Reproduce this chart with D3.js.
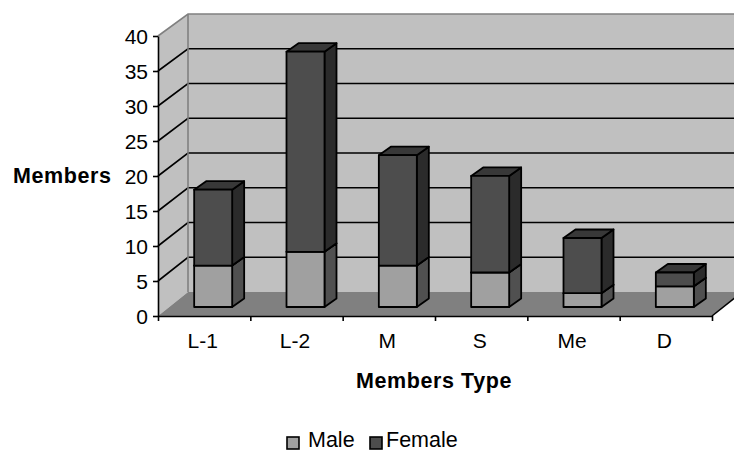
<!DOCTYPE html>
<html>
<head>
<meta charset="utf-8">
<script src="https://d3js.org/d3.v7.min.js"></script>
<style>
html,body{margin:0;padding:0;background:#fff;overflow:hidden}
svg{display:block}
text{font-family:"Liberation Sans",Arial,sans-serif;fill:#000}
</style>
</head>
<body>
<svg width="734" height="452"></svg>
<script>
const categories = ["L-1","L-2","M","S","Me","D"]
const male = [6,8,6,5,2,3]
const female = [11,29,16,14,8,2]
const yTicks = [0,5,10,15,20,25,30,35,40]

const svg = d3.select("svg")
const plotL = 158, plotR = 712, plotB = 316, plotT = 36
const depthX = 30   // offset of the back wall
const barShift = 9, barDepth = {x:12, y:-8.5}, barW = 38

const x = d3.scaleBand().domain(categories).range([plotL,plotR])
const xTick = d3.scaleLinear().domain([0,categories.length]).range([plotL,plotR])
// front plane, back wall and bars sit at slightly different scales (perspective)
const y = d3.scaleLinear().domain([0,40]).range([plotB,plotT])
const yBack = d3.scaleLinear().domain([0,40]).range([292,14])
const yBar = d3.scaleLinear().domain([0,40]).range([307,31])
const line = d3.line()

const backL = plotL+depthX, backR = plotR+depthX

// walls
const wallGrey = "#c0c0c0", edge = "#808080"
svg.append("path")
	.attr("d", line([[plotL,y(0)],[plotL,y(40)],[backL,yBack(40)],[backR,yBack(40)],[backR,yBack(0)],[backL,yBack(0)]])+"Z")
	.attr("fill",wallGrey)

// gridlines on the side and back wall
yTicks.filter(d => d > 0 && d < 40).forEach(d => {
	svg.append("path")
		.attr("d", line([[plotL,y(d)],[backL,yBack(d)],[backR,yBack(d)]]))
		.attr("fill","none").attr("stroke","#000").attr("stroke-width",1.6)
})
svg.append("path")
	.attr("d", line([[plotL,y(40)],[backL,yBack(40)],[backR,yBack(40)]]))
	.attr("fill","none").attr("stroke",edge).attr("stroke-width",1.6)
svg.append("line")
	.attr("x1",backL).attr("x2",backL)
	.attr("y1",yBack(40)).attr("y2",yBack(0))
	.attr("stroke",edge).attr("stroke-width",1.6)

// floor
svg.append("path")
	.attr("d", line([[plotL,y(0)],[backL,yBack(0)],[backR,yBack(0)],[plotR,y(0)]])+"Z")
	.attr("fill",edge)

// one stacked 3d segment
function box(g, cat, from, to, front, side, topFill){
	const x0 = x(cat)+x.bandwidth()/2-barW/2+barShift
	const x1 = x0+barW
	const y0 = yBar(from)
	const y1 = yBar(to)
	const dx = barDepth.x, dy = barDepth.y
	const add = (pts,fill) => {
		g.append("path").attr("d",line(pts)+"Z").attr("fill",fill)
			.attr("stroke","#000").attr("stroke-width",1.8).attr("stroke-linejoin","round")
	}
	add([[x1,y0],[x1+dx,y0+dy],[x1+dx,y1+dy],[x1,y1]],side)
	add([[x0,y1],[x0+dx,y1+dy],[x1+dx,y1+dy],[x1,y1]],topFill)
	add([[x0,y0],[x1,y0],[x1,y1],[x0,y1]],front)
}

const bars = svg.append("g")
categories.forEach((c,i) => {
	box(bars,c,0,male[i],"#a0a0a0","#505050","#a0a0a0")
	box(bars,c,male[i],male[i]+female[i],"#4d4d4d","#2b2b2b","#383838")
})

// axes
const yAxis = svg.append("g")
	.attr("transform","translate("+plotL+",0)")
	.call(d3.axisLeft(y).tickValues(yTicks).tickSize(5).tickPadding(5).tickSizeOuter(0))
yAxis.selectAll("text").style("font-size","21px").attr("dy","0.36em")
yAxis.selectAll("line,path").attr("stroke","#000").attr("stroke-width",1.6)

const xAxis = svg.append("g")
	.attr("transform","translate(0,"+plotB+")")
	.call(d3.axisBottom(xTick).ticks(categories.length).tickFormat("").tickSize(5).tickSizeOuter(0))
xAxis.selectAll("line,path").attr("stroke","#000").attr("stroke-width",1.6)

svg.append("path")
	.attr("d", line([[plotR,y(0)],[backR,yBack(0)]]))
	.attr("fill","none").attr("stroke","#000").attr("stroke-width",1.6)

svg.append("g").selectAll("text")
	.data(categories).enter()
	.append("text")
	.attr("x", d => x(d)+x.bandwidth()/2-1.5)
	.attr("y", 348)
	.attr("text-anchor","middle")
	.style("font-size","21px")
	.text(d => d)

// titles
svg.append("text").attr("x",13).attr("y",183)
	.style("font-size","21.5px").style("font-weight","bold").style("letter-spacing","0.6px").text("Members")
svg.append("text").attr("x",434).attr("y",388).attr("text-anchor","middle")
	.style("font-size","21.5px").style("font-weight","bold").style("letter-spacing","0.6px").text("Members Type")

// legend
const legend = svg.append("g")
;[["Male","#a0a0a0",287,308],["Female","#4d4d4d",370,386]].forEach(l => {
	legend.append("rect").attr("x",l[2]).attr("y",437).attr("width",12).attr("height",12)
		.attr("fill",l[1]).attr("stroke","#000").attr("stroke-width",1.6)
	legend.append("text").attr("x",l[3]).attr("y",447.4).style("font-size","21.5px").text(l[0])
})
</script>
</body>
</html>
